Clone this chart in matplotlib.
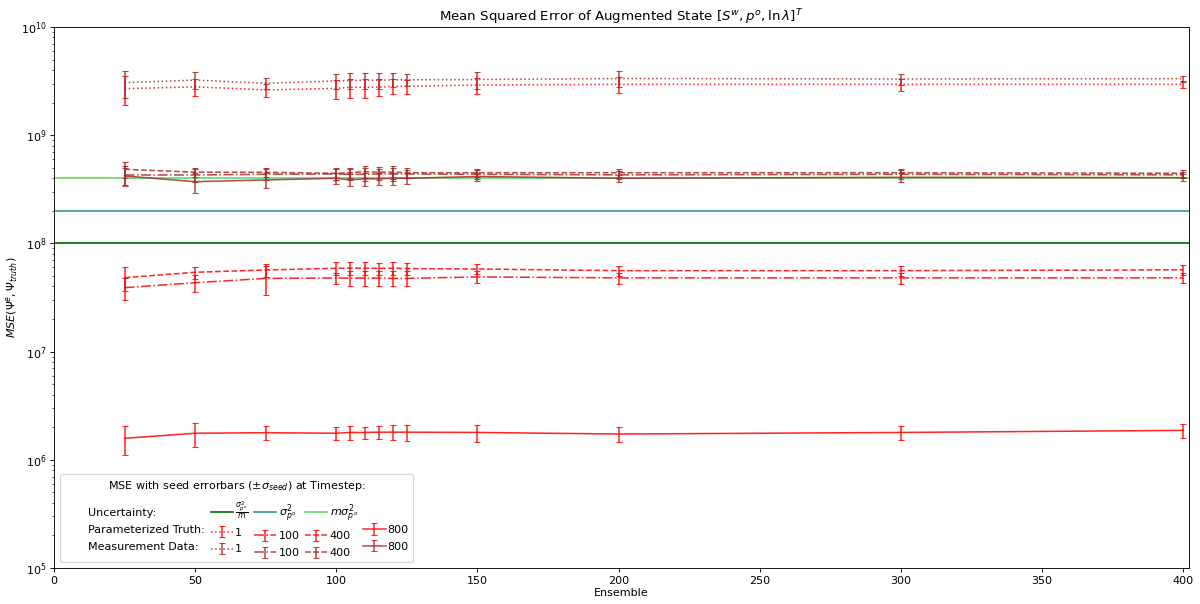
# import necessary libraries
import numpy as np
import matplotlib.pyplot as plt

# ensemble sizes
ensemble = [25, 50, 75, 100, 105, 110, 115, 120, 125, 150, 200, 300, 400]

# parameterized truth, mean and seed std per timestep
truth_1 = [2.69e9, 2.80e9, 2.62e9, 2.71e9, 2.78e9, 2.78e9, 2.78e9, 2.83e9, 2.83e9, 2.91e9, 2.95e9, 2.95e9, 2.95e9]
truth_1_std = [0.80e9, 0.50e9, 0.37e9, 0.56e9, 0.55e9, 0.55e9, 0.50e9, 0.45e9, 0.42e9, 0.50e9, 0.50e9, 0.37e9, 0.22e9]
truth_100 = [3.90e7, 4.33e7, 4.75e7, 4.79e7, 4.78e7, 4.78e7, 4.78e7, 4.75e7, 4.75e7, 4.90e7, 4.80e7, 4.80e7, 4.80e7]
truth_100_std = [0.91e7, 0.76e7, 1.45e7, 0.58e7, 0.75e7, 0.75e7, 0.75e7, 0.75e7, 0.75e7, 0.6e7, 0.55e7, 0.55e7, 0.5e7]
truth_400 = [4.82e7, 5.41e7, 5.68e7, 5.89e7, 5.92e7, 5.90e7, 5.88e7, 5.90e7, 5.85e7, 5.80e7, 5.60e7, 5.60e7, 5.70e7]
truth_400_std = [1.19e7, 0.68e7, 0.78e7, 0.78e7, 0.80e7, 0.78e7, 0.75e7, 0.78e7, 0.75e7, 0.6e7, 0.55e7, 0.55e7, 0.55e7]
truth_800 = [1.58e6, 1.76e6, 1.78e6, 1.76e6, 1.79e6, 1.79e6, 1.80e6, 1.80e6, 1.80e6, 1.79e6, 1.73e6, 1.79e6, 1.87e6]
truth_800_std = [0.47e6, 0.45e6, 0.27e6, 0.24e6, 0.26e6, 0.23e6, 0.245e6, 0.285e6, 0.31e6, 0.32e6, 0.26e6, 0.25e6, 0.27e6]

# measurement data, mean and seed std per timestep
meas_1 = [3.06e9, 3.23e9, 3.02e9, 3.17e9, 3.20e9, 3.22e9, 3.22e9, 3.25e9, 3.25e9, 3.27e9, 3.34e9, 3.31e9, 3.33e9]
meas_1_std = [0.84e9, 0.58e9, 0.35e9, 0.52e9, 0.55e9, 0.57e9, 0.55e9, 0.48e9, 0.40e9, 0.60e9, 0.55e9, 0.38e9, 0.22e9]
meas_100 = [4.29e8, 4.29e8, 4.35e8, 4.38e8, 4.35e8, 4.35e8, 4.38e8, 4.38e8, 4.38e8, 4.35e8, 4.30e8, 4.35e8, 4.30e8]
meas_100_std = [0.85e8, 0.6e8, 0.5e8, 0.5e8, 0.5e8, 0.6e8, 0.5e8, 0.6e8, 0.4e8, 0.4e8, 0.4e8, 0.4e8, 0.3e8]
meas_400 = [4.84e8, 4.55e8, 4.54e8, 4.44e8, 4.50e8, 4.60e8, 4.55e8, 4.55e8, 4.50e8, 4.50e8, 4.50e8, 4.50e8, 4.45e8]
meas_400_std = [0.8e8, 0.45e8, 0.4e8, 0.55e8, 0.5e8, 0.55e8, 0.5e8, 0.6e8, 0.45e8, 0.4e8, 0.35e8, 0.35e8, 0.3e8]
meas_800 = [4.20e8, 3.72e8, 3.86e8, 4.00e8, 3.86e8, 3.95e8, 3.95e8, 4.00e8, 4.00e8, 4.15e8, 4.00e8, 4.08e8, 4.05e8]
meas_800_std = [0.8e8, 0.8e8, 0.6e8, 0.45e8, 0.5e8, 0.55e8, 0.5e8, 0.5e8, 0.45e8, 0.35e8, 0.3e8, 0.35e8, 0.3e8]

# uncertainty of the observations
sigma2 = 2e8
m = 2

fig = plt.figure(figsize=(15, 15 * 604 / 1200), dpi=80)
ax = fig.add_axes([0.045, 0.0596, 0.9458, 0.8957])

# uncertainty levels
h_unc_m = ax.axhline(sigma2 / m, color='darkgreen', lw=1.5, label=r'$\frac{\sigma^2_{p^o}}{m}$')
h_unc = ax.axhline(sigma2, color='#3a8f9c', lw=1.5, label=r'$\sigma^2_{p^o}$')
h_unc_mm = ax.axhline(m * sigma2, color='limegreen', alpha=0.75, lw=1.5, label=r'$m\sigma^2_{p^o}$')

truth_color = 'red'
meas_color = 'brown'
kw = dict(capsize=3, lw=1.4, elinewidth=1.4, alpha=0.85)

t1 = ax.errorbar(ensemble, truth_1, yerr=truth_1_std, color=truth_color, ls=':', label='1', **kw)
t100 = ax.errorbar(ensemble, truth_100, yerr=truth_100_std, color=truth_color, ls='-.', label='100', **kw)
t400 = ax.errorbar(ensemble, truth_400, yerr=truth_400_std, color=truth_color, ls='--', label='400', **kw)
t800 = ax.errorbar(ensemble, truth_800, yerr=truth_800_std, color=truth_color, ls='-', label='800', **kw)

m1 = ax.errorbar(ensemble, meas_1, yerr=meas_1_std, color=meas_color, ls=':', label='1', **kw)
m100 = ax.errorbar(ensemble, meas_100, yerr=meas_100_std, color=meas_color, ls='-.', label='100', **kw)
m400 = ax.errorbar(ensemble, meas_400, yerr=meas_400_std, color=meas_color, ls='--', label='400', **kw)
m800 = ax.errorbar(ensemble, meas_800, yerr=meas_800_std, color=meas_color, ls='-', label='800', **kw)

ax.set_yscale('log')
ax.set_ylim(1e5, 1e10)
ax.set_xlim(0, 402)
ax.set_xticks(np.arange(0, 401, 50))
ax.set_xlabel('Ensemble', labelpad=2)
ax.set_ylabel(r'$MSE(\Psi^e, \Psi_{truth})$', labelpad=1)
ax.set_title(r'Mean Squared Error of Augmented State $[S^w, p^o, \ln\lambda]^T$', pad=3)

# legend laid out as a table: row names in the first column
blank = lambda lab: ax.plot([], [], ' ', label=lab)[0]
handles = [blank('Uncertainty:'), blank('Parameterized Truth:'), blank('Measurement Data:'),
           h_unc_m, t1, m1,
           h_unc, t100, m100,
           h_unc_mm, t400, m400,
           blank(''), t800, m800]
labels = ['Uncertainty:', 'Parameterized Truth:', 'Measurement Data:',
          h_unc_m.get_label(), '1', '1',
          h_unc.get_label(), '100', '100',
          h_unc_mm.get_label(), '400', '400',
          '', '800', '800']
ax.legend(handles, labels, ncol=5, loc='lower left',
          title=r'MSE with seed errorbars ($\pm\sigma_{seed}$) at Timestep:',
          handlelength=2.0, handletextpad=0.2, columnspacing=0.5, labelspacing=0.6)

plt.savefig('out.png', dpi=80)
